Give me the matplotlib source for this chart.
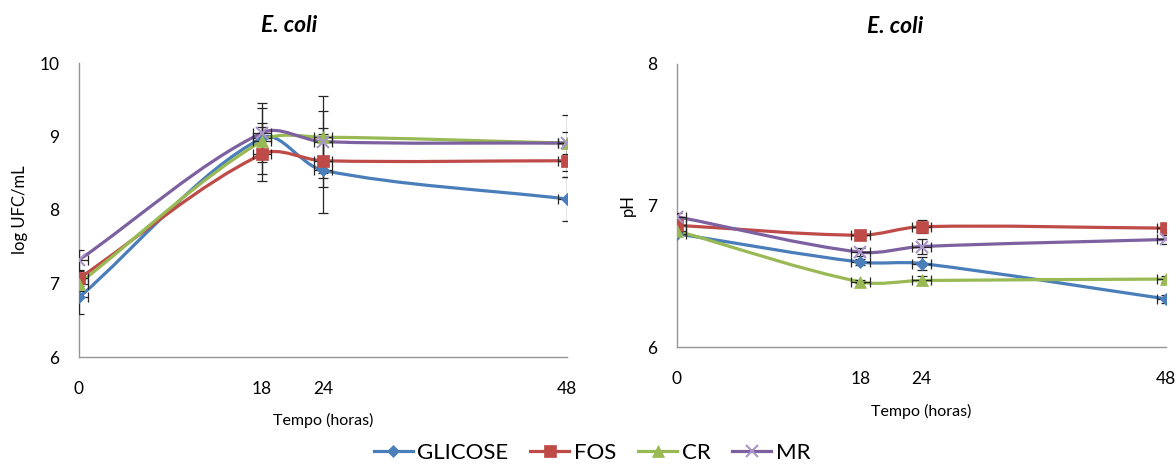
import numpy as np
import matplotlib
matplotlib.use("Agg")
import matplotlib.pyplot as plt
from matplotlib.path import Path
from matplotlib.patches import PathPatch
from matplotlib.lines import Line2D

plt.rcParams["font.family"] = ["Lato", "DejaVu Sans"]

# -----------------------------
# data
# -----------------------------
hours = [0, 18, 24, 48]
series = ["GLICOSE", "FOS", "CR", "MR"]

# log UFC/mL
ufc_glicose = [6.81, 8.98, 8.54, 8.15]
ufc_fos = [7.07, 8.76, 8.67, 8.67]
ufc_cr = [7.00, 8.94, 8.99, 8.91]
ufc_mr = [7.32, 9.05, 8.93, 8.91]

ufc_err_glicose = [0.22, 0.20, 0.58, 0.30]
ufc_err_fos = [0.10, 0.37, 0.36, 0.22]
ufc_err_cr = [0.10, 0.45, 0.56, 0.38]
ufc_err_mr = [0.13, 0.40, 0.42, 0.15]

# pH
ph_glicose = [6.80, 6.60, 6.59, 6.34]
ph_fos = [6.86, 6.79, 6.85, 6.84]
ph_cr = [6.82, 6.46, 6.47, 6.48]
ph_mr = [6.92, 6.67, 6.71, 6.76]

ph_err_glicose = [0.01, 0.02, 0.045, 0.03]
ph_err_fos = [0.02, 0.01, 0.045, 0.03]
ph_err_cr = [0.01, 0.01, 0.03, 0.02]
ph_err_mr = [0.03, 0.03, 0.05, 0.035]

hour_err = [0.9, 0.9, 0.9, 0.9]

colors = ["#4A7EBB", "#BE4B48", "#98B954", "#7D60A0"]
markers = ["D", "s", "^", "x"]
msizes = [6, 8, 8, 8]
mcolors = ["#4A7EBB", "#BE4B48", "#98B954", "#A995C8"]


def smooth_curve(ax, xs, ys, color):
    # Excel-like smoothed line: cubic bezier through the points,
    # control arms weighted by the on-screen segment lengths
    pts = np.column_stack([xs, ys]).astype(float)
    disp = ax.transData.transform(pts)
    d = np.hypot(*np.diff(disp, axis=0).T)
    n = len(pts)
    verts = [pts[0]]
    codes = [Path.MOVETO]
    for i in range(n - 1):
        p0 = pts[i]
        p1 = pts[i + 1]
        pm = pts[i - 1] if i > 0 else pts[i]
        pp = pts[i + 2] if i + 2 < n else pts[i + 1]
        dm = d[i - 1] if i > 0 else 0.0
        dp = d[i + 1] if i + 2 < n else 0.0
        c1 = p0 + (p1 - pm) / 3 * d[i] / (dm + d[i])
        c2 = p1 - (pp - p0) / 3 * d[i] / (d[i] + dp)
        verts += [c1, c2, p1]
        codes += [Path.CURVE4] * 3
    patch = PathPatch(Path(verts, codes), fill=False, edgecolor=color,
                      lw=2.3, capstyle="round", joinstyle="round", zorder=2)
    ax.add_patch(patch)


def draw_panel(ax, data, errs, ylim, yticks, ylabel, title_x):
    ax.set_xlim(0, 48)
    ax.set_ylim(*ylim)
    for k in range(4):
        smooth_curve(ax, hours, data[k], colors[k])
        ax.errorbar(hours, data[k], yerr=errs[k], xerr=hour_err, fmt="none",
                    ecolor="#262626", elinewidth=0.9, capsize=3.5,
                    capthick=0.9, zorder=3)
        ax.plot(hours, data[k], linestyle="none", marker=markers[k],
                markersize=msizes[k], color=mcolors[k],
                markeredgewidth=1.5 if markers[k] == "x" else 0.5, zorder=4)
    ax.set_xticks(hours)
    ax.set_yticks(yticks)
    ax.tick_params(length=0, labelsize=12.5)
    ax.tick_params(axis="x", pad=17)
    ax.tick_params(axis="y", pad=14)
    for s in ["top", "right"]:
        ax.spines[s].set_visible(False)
    for s in ["left", "bottom"]:
        ax.spines[s].set_color("#969696")
        ax.spines[s].set_linewidth(1.0)
    ax.set_title("E. coli", fontsize=16.5, fontweight="bold", style="italic",
                 x=title_x, pad=22)
    ax.set_xlabel("Tempo (horas)", fontsize=11.5)
    ax.set_ylabel(ylabel, fontsize=12)


fig = plt.figure(figsize=(11.76, 4.66), dpi=100)

# -----------------------------
# 1. log UFC/mL
# -----------------------------
ax1 = fig.add_axes([79 / 1176, 1 - 357 / 466, 488 / 1176, 294 / 466])
draw_panel(ax1, [ufc_glicose, ufc_fos, ufc_cr, ufc_mr],
           [ufc_err_glicose, ufc_err_fos, ufc_err_cr, ufc_err_mr],
           (6, 10), [6, 7, 8, 9, 10], "log UFC/mL", 0.43)
ax1.xaxis.set_label_coords(0.5, -0.19)
ax1.yaxis.set_label_coords(-0.105, 0.5)

# -----------------------------
# 2. pH
# -----------------------------
ax2 = fig.add_axes([677 / 1176, 1 - 347 / 466, 489 / 1176, 283 / 466])
draw_panel(ax2, [ph_glicose, ph_fos, ph_cr, ph_mr],
           [ph_err_glicose, ph_err_fos, ph_err_cr, ph_err_mr],
           (6, 8), [6, 7, 8], "pH", 0.446)
ax2.xaxis.set_label_coords(0.5, -0.2)
ax2.yaxis.set_label_coords(-0.084, 0.5)

# legend
handles = [Line2D([], [], color=colors[k], lw=2.3, marker=markers[k],
                  markersize=msizes[k], markerfacecolor=mcolors[k],
                  markeredgecolor=mcolors[k],
                  markeredgewidth=1.5 if markers[k] == "x" else 0.5)
           for k in range(4)]
fig.legend(handles, series, loc="center", bbox_to_anchor=(592 / 1176, 0.028),
           ncol=4, frameon=False, fontsize=16, handlelength=1.75,
           handletextpad=0.2, columnspacing=1.0)

fig.savefig("out.png", dpi=100)
